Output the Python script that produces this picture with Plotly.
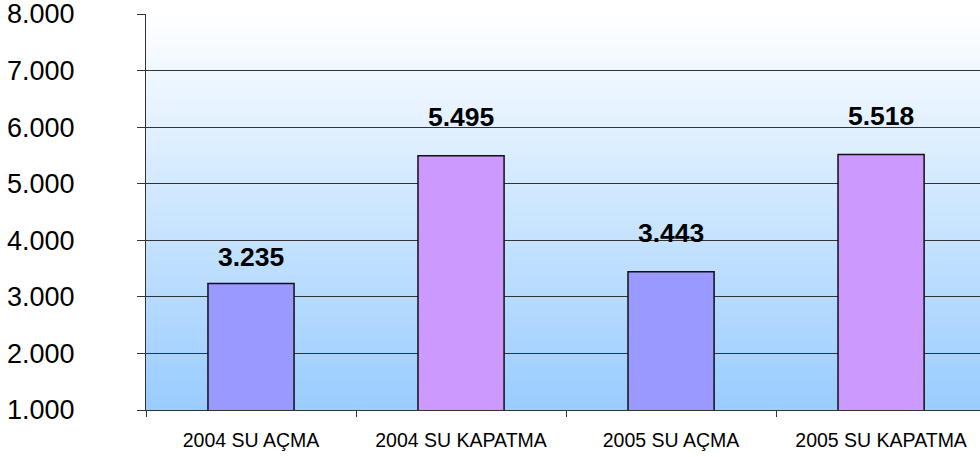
"""
Su açma / kapatma bar chart, 2004-2005
"""
import numpy as np
import plotly.graph_objects as go

categories = ['2004 SU AÇMA', '2004 SU KAPATMA', '2005 SU AÇMA', '2005 SU KAPATMA']
values = [3235, 5495, 3443, 5518]
bar_colors = ['#9999FF', '#CC99FF', '#9999FF', '#CC99FF']
label_shift = [10, 22, 22, 21]  # gap between label and bar top
y_ticks = [1000, 2000, 3000, 4000, 5000, 6000, 7000, 8000]


def fmt(v):
    # Turkish style thousands separator
    return f'{v:,}'.replace(',', '.')


fig = go.Figure()

fig.add_trace(go.Bar(
    x=categories,
    y=values,
    width=0.41,
    marker=dict(color=bar_colors, line=dict(color='#111111', width=1.5)),
    hoverinfo='x+y'
))

# bold value labels above the bars
for cat, val, shift in zip(categories, values, label_shift):
    fig.add_annotation(
        x=cat, y=val, text=f'<b>{fmt(val)}</b>',
        showarrow=False, yanchor='bottom', yshift=shift,
        font=dict(family='Liberation Sans, Arial', size=26.5, color='#000000')
    )

# vertical white -> light blue gradient behind the grid
n_strips = 90
top = np.array([255, 255, 255])
bottom = np.array([153, 204, 255])
for i in range(n_strips):
    t = (i + 0.5) / n_strips
    c = (top * (1 - t) + bottom * t).round().astype(int)
    fig.add_shape(
        type='rect', xref='x domain', yref='y domain',
        x0=0, x1=1, y0=1 - (i + 1) / n_strips, y1=1 - i / n_strips + 0.002,
        fillcolor=f'rgb({c[0]},{c[1]},{c[2]})', line=dict(width=0), layer='below'
    )

fig.update_layout(
    width=980,
    height=457,
    margin=dict(l=146, r=0, t=14, b=47),
    paper_bgcolor='white',
    plot_bgcolor='rgba(0,0,0,0)',
    showlegend=False,
    font=dict(family='Liberation Sans, Arial', color='#000000')
)

fig.update_xaxes(
    automargin=False,
    range=[-0.5, 3.471],
    tickson='boundaries',
    ticks='outside', ticklen=6, tickcolor='#333333', tickwidth=1,
    showline=True, linecolor='#333333', linewidth=1,
    showgrid=False,
    tickfont=dict(size=19.5),
    ticklabelstandoff=13
)

fig.update_yaxes(
    automargin=False,
    range=[1000, 8000],
    tickvals=y_ticks,
    ticktext=[fmt(v) for v in y_ticks],
    ticks='outside', ticklen=8, tickcolor='#333333', tickwidth=1,
    showline=True, linecolor='#333333', linewidth=1,
    showgrid=True, gridcolor='#333333', gridwidth=1,
    zeroline=False,
    tickfont=dict(size=27),
    ticklabelstandoff=57,
    ticklabeloverflow='allow'
)

# drop the default 8px body margin so the figure sits at the page corner
fig.write_html(
    "out.html",
    config={'displayModeBar': False},
    post_script="document.body.style.margin = '0';"
)
